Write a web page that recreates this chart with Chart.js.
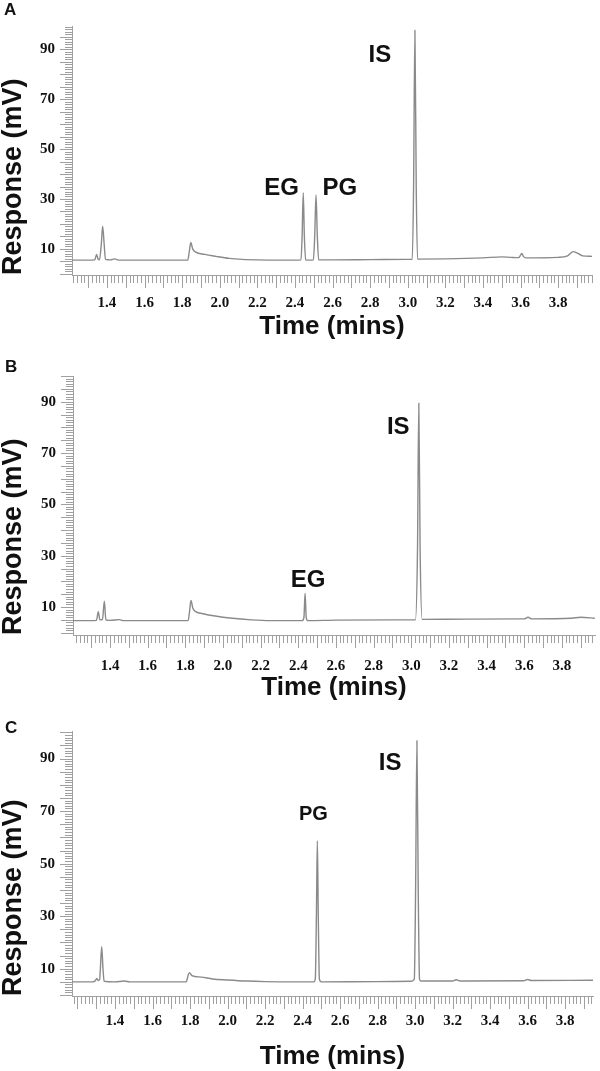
<!DOCTYPE html>
<html>
<head>
<meta charset="utf-8">
<script src="https://cdn.jsdelivr.net/npm/chart.js@4.4.1/dist/chart.umd.min.js"></script>
<style>
  html, body { margin: 0; padding: 0; background: #fff; }
  body { width: 600px; height: 1071px; position: relative; overflow: hidden; }
  canvas { position: absolute; left: 0; }
  .tag { position: absolute; font: bold 17px "Liberation Sans", Arial, sans-serif; line-height: 18px; color: #111; }
</style>
</head>
<body>
<canvas id="chartA" width="600" height="350" style="top:0px"></canvas>
<canvas id="chartB" width="600" height="355" style="top:350px"></canvas>
<canvas id="chartC" width="600" height="366" style="top:705px"></canvas>
<div class="tag" style="left:4px;top:1px">A</div>
<div class="tag" style="left:5px;top:358px">B</div>
<div class="tag" style="left:5px;top:719px">C</div>
<script>
// tick labels
const xTickLabels = ["1.4", "1.6", "1.8", "2.0", "2.2", "2.4", "2.6", "2.8", "3.0", "3.2", "3.4", "3.6", "3.8"];
const yTickLabels = ["10", "30", "50", "70", "90"];

// chromatogram A (time in mins, response in mV)
const timeA = [1.214, 1.30, 1.335, 1.345, 1.352, 1.360, 1.370, 1.377, 1.385, 1.392, 1.42, 1.44, 1.46,
  1.83, 1.838, 1.846, 1.856, 1.87, 1.92, 1.98, 2.05, 2.12, 2.20, 2.30,
  2.40, 2.432, 2.438, 2.444, 2.450, 2.457, 2.475, 2.498, 2.505, 2.512, 2.519, 2.526,
  2.60, 2.80, 3.00, 3.024, 3.031, 3.038, 3.045, 3.052, 3.20, 3.40, 3.50, 3.55, 3.59,
  3.600, 3.607, 3.615, 3.63, 3.80, 3.85, 3.88, 3.90, 3.93, 3.98];
const respA = [5.5, 5.5, 5.6, 7.8, 6.0, 5.6, 12, 19.1, 12, 5.8, 5.6, 6.0, 5.5,
  5.5, 9, 12.6, 10, 8.8, 7.8, 7.0, 6.2, 5.8, 5.6, 5.5,
  5.5, 5.6, 15, 32.5, 15, 5.6, 5.5, 5.6, 15, 31.6, 15, 5.6,
  5.6, 5.7, 5.8, 5.8, 35, 97.6, 35, 5.9, 6.0, 6.4, 6.8, 6.6, 6.5,
  7.5, 8.2, 7.0, 6.4, 6.6, 7.2, 8.9, 8.4, 7.2, 7.0];

// chromatogram B
const timeB = [1.204, 1.30, 1.328, 1.338, 1.346, 1.360, 1.370, 1.378, 1.40, 1.45, 1.47,
  1.815, 1.822, 1.830, 1.84, 1.855, 1.90, 1.95, 2.05, 2.15, 2.25,
  2.42, 2.430, 2.436, 2.442, 2.45, 2.60, 2.90, 3.022, 3.033, 3.040, 3.047, 3.058,
  3.30, 3.60, 3.62, 3.64, 3.85, 3.90, 3.975];
const respB = [4.7, 4.7, 4.8, 8.2, 5.0, 5.2, 12.3, 5.0, 4.8, 5.1, 4.7,
  4.7, 8, 12.6, 9.5, 8.2, 7.3, 6.6, 5.6, 5.0, 4.7,
  4.7, 6, 15.4, 6, 4.7, 4.9, 5.0, 5.0, 32, 89.4, 32, 5.2,
  5.3, 5.4, 6.0, 5.4, 5.6, 6.0, 5.6];

// chromatogram C
const timeC = [1.171, 1.28, 1.295, 1.302, 1.31, 1.318, 1.322, 1.329, 1.336, 1.342, 1.40, 1.45, 1.48,
  1.78, 1.79, 1.797, 1.81, 1.86, 1.92, 2.00, 2.10, 2.20,
  2.46, 2.468, 2.474, 2.479, 2.484, 2.490, 2.50, 2.80, 2.98, 2.996, 3.003, 3.010, 3.017, 3.024, 3.03,
  3.20, 3.22, 3.24, 3.58, 3.60, 3.62, 3.949];
const respC = [5.0, 5.0, 5.4, 6.3, 5.5, 5.8, 10, 18.4, 10, 5.2, 5.0, 5.3, 5.0,
  5.0, 7.5, 8.5, 7.4, 6.8, 6.1, 5.7, 5.3, 5.1,
  5.0, 6, 30, 58.7, 30, 6, 5.0, 5.1, 5.2, 6, 40, 96.8, 40, 6, 5.3,
  5.3, 5.8, 5.3, 5.4, 5.9, 5.5, 5.6];

// peak annotations (text, time, response at label centre)
const peakNamesA = ["EG", "PG", "IS"];
const peakTimesA = [2.329, 2.639, 2.852];
const peakRespA = [34.4, 34.4, 87.4];
const peakNamesB = ["EG", "IS"];
const peakTimesB = [2.452, 2.931];
const peakRespB = [20.5, 79.9];
const peakNamesC = ["PG", "IS"];
const peakTimesC = [2.458, 2.867];
const peakRespC = [68.7, 88.1];

const SANS = '"Liberation Sans", Arial, sans-serif';
const SERIF = '"Liberation Serif", "Times New Roman", serif';

const rulerTicks = {
  id: "rulerTicks",
  afterDraw(chart) {
    const { ctx, scales: { x, y }, chartArea: a } = chart;
    ctx.save();
    ctx.strokeStyle = "#a0a0a0";
    ctx.lineWidth = 1;
    ctx.beginPath();
    for (let k = Math.ceil(x.min / 0.02); k * 0.02 <= x.max + 1e-9; k++) {
      const px = Math.round(x.getPixelForValue(k * 0.02)) + 0.5;
      const len = k % 5 === 0 ? 13 : 8;
      ctx.moveTo(px, a.bottom);
      ctx.lineTo(px, a.bottom + len);
    }
    for (let v = Math.ceil(y.min); v <= y.max; v++) {
      const py = Math.round(y.getPixelForValue(v)) + 0.5;
      const len = v % 5 === 0 ? 12 : 7;
      ctx.moveTo(a.left - len, py);
      ctx.lineTo(a.left, py);
    }
    ctx.stroke();
    ctx.restore();
  }
};

const peakText = {
  id: "peakText",
  afterDatasetsDraw(chart, args, opts) {
    const { ctx, scales: { x, y } } = chart;
    ctx.save();
    ctx.fillStyle = "#111";
    ctx.textAlign = "center";
    ctx.textBaseline = "middle";
    opts.names.forEach((n, i) => {
      ctx.font = opts.fonts[i];
      ctx.fillText(n, x.getPixelForValue(opts.times[i]), y.getPixelForValue(opts.values[i]));
    });
    ctx.restore();
  }
};

function makePanel(id, times, resp, labels, cfg) {
  const W = 600;
  const a = cfg.area;
  new Chart(document.getElementById(id), {
    type: "line",
    data: {
      datasets: [{
        data: times.map((t, i) => ({ x: t, y: resp[i] })),
        borderColor: "#8a8a8a",
        borderWidth: 1.4,
        pointRadius: 0,
        cubicInterpolationMode: "monotone",
        fill: false
      }]
    },
    options: {
      responsive: false,
      animation: false,
      events: [],
      layout: { padding: { left: 0, top: a.top, right: W - a.right, bottom: 0 } },
      plugins: {
        legend: { display: false },
        tooltip: { enabled: false },
        peakText: labels
      },
      scales: {
        x: {
          type: "linear",
          min: cfg.xMin,
          max: cfg.xMax,
          grid: { display: false, drawTicks: false },
          border: { display: true, color: "#a0a0a0", width: 1 },
          afterBuildTicks: s => { s.ticks = xTickLabels.map(l => ({ value: parseFloat(l) })); },
          afterFit: s => { s.height = cfg.h - a.bottom; },
          ticks: {
            padding: cfg.xLabelPad,
            color: "#111",
            maxRotation: 0,
            font: { family: SERIF, size: 15, weight: "bold" },
            callback: (v, i) => xTickLabels[i]
          },
          title: {
            display: true,
            text: "Time (mins)",
            color: "#111",
            padding: { top: 0, bottom: cfg.xTitlePad },
            font: { family: SANS, size: 26, weight: "bold", lineHeight: 1 }
          }
        },
        y: {
          type: "linear",
          min: cfg.yMin,
          max: cfg.yMax,
          grid: { display: false, drawTicks: false },
          border: { display: true, color: "#a0a0a0", width: 1 },
          afterBuildTicks: s => { s.ticks = yTickLabels.map(l => ({ value: parseFloat(l) })); },
          afterFit: s => { s.width = a.left; },
          ticks: {
            padding: 17,
            color: "#111",
            font: { family: SERIF, size: 15, weight: "bold" },
            callback: (v, i) => yTickLabels[i]
          },
          title: {
            display: true,
            text: "Response (mV)",
            align: "start",
            color: "#111",
            padding: { top: 0, bottom: 0 },
            font: { family: SANS, size: 27, weight: "bold", lineHeight: 1 }
          }
        }
      }
    },
    plugins: [rulerTicks, peakText]
  });
}

const bigLabel = "bold 24px " + SANS;

makePanel("chartA", timeA, respA,
  { names: peakNamesA, times: peakTimesA, values: peakRespA, fonts: [bigLabel, bigLabel, bigLabel] },
  { area: { left: 72, top: 8, right: 592, bottom: 275 }, h: 350,
    xMin: 1.214, xMax: 3.98, yMin: -0.47, yMax: 99.35, xLabelPad: 19, xTitlePad: 10 });

makePanel("chartB", timeB, respB,
  { names: peakNamesB, times: peakTimesB, values: peakRespB, fonts: [bigLabel, bigLabel] },
  { area: { left: 73, top: 17, right: 595, bottom: 285 }, h: 355,
    xMin: 1.2035, xMax: 3.9757, yMin: -0.9, yMax: 100.0, xLabelPad: 22, xTitlePad: 4 });

makePanel("chartC", timeC, respC,
  { names: peakNamesC, times: peakTimesC, values: peakRespC, fonts: ["600 20px " + SANS, bigLabel] },
  { area: { left: 72, top: 22, right: 593, bottom: 291 }, h: 366,
    xMin: 1.1707, xMax: 3.949, yMin: -0.39, yMax: 100.5, xLabelPad: 16, xTitlePad: 1 });
</script>
</body>
</html>
